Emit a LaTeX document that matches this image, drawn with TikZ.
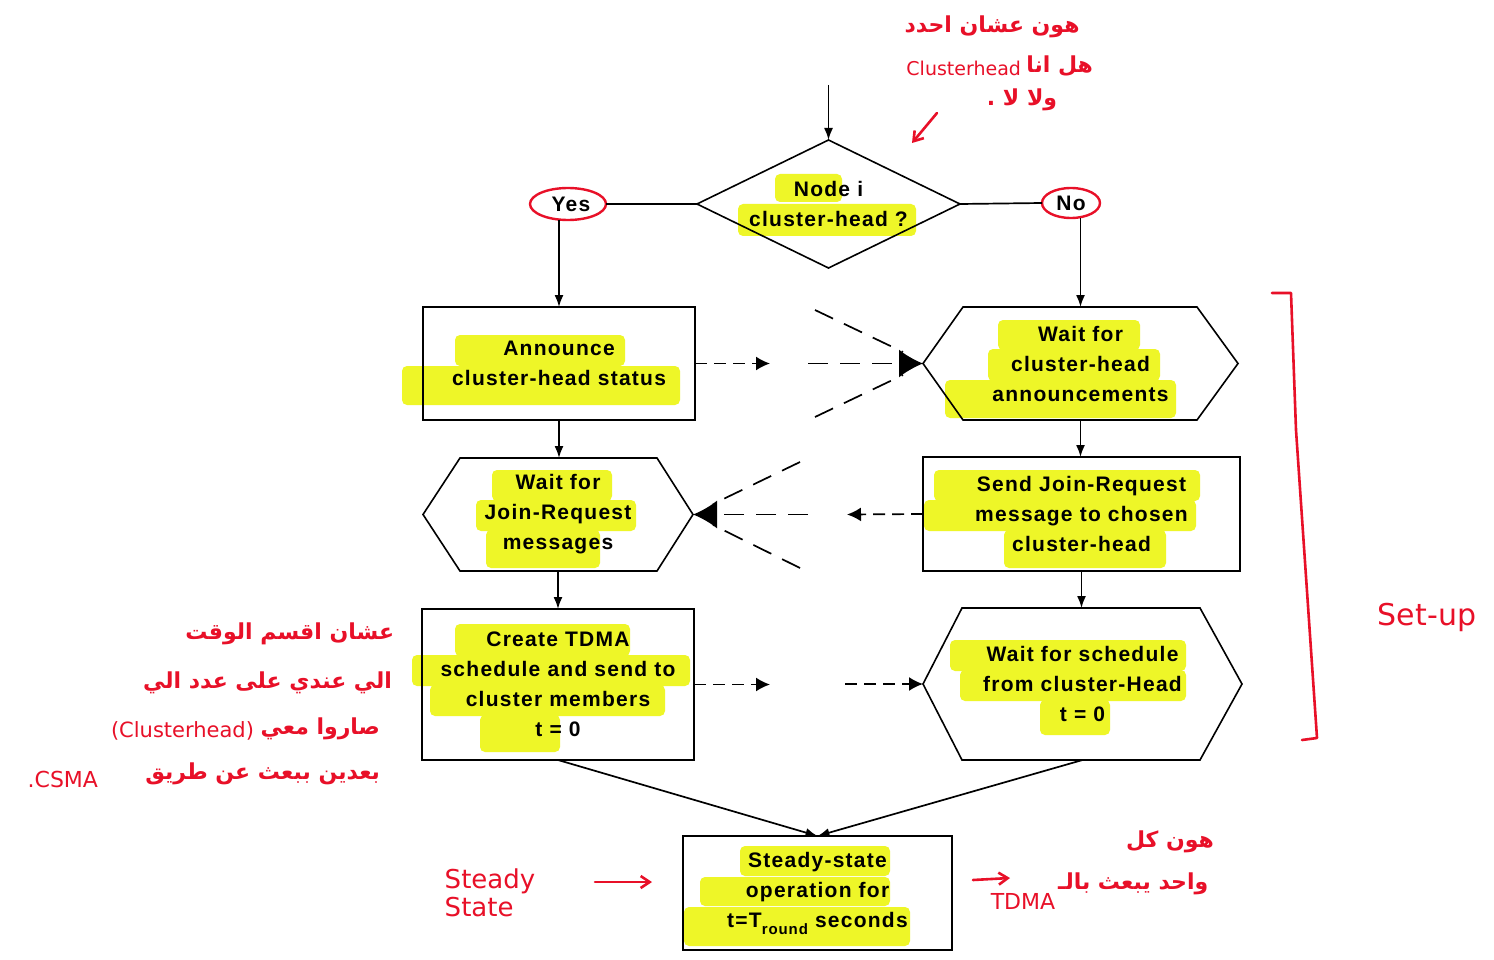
\documentclass[tikz,border=0pt]{standalone}
\usepackage{fontspec}
\setmainfont{Liberation Sans}
\newfontfamily\boxfont{Liberation Sans Bold}[LetterSpace=6]
\newfontfamily\arabicfont[Script=Arabic]{DejaVu Sans Bold}
\newfontfamily\handfont{DejaVu Sans}
\TeXXeTstate=1
\usetikzlibrary{arrows.meta,shapes.geometric}
\definecolor{hl}{RGB}{238,246,40}
\definecolor{pen}{RGB}{232,16,40}
\begin{document}
\begin{tikzpicture}[x=1pt,y=-1pt,
  every node/.style={inner sep=0pt,outer sep=0pt},
  txt/.style={font=\boxfont\fontsize{21}{30}\selectfont,align=center,text=black},
  shp/.style={draw=black,line width=1.6pt},
  ln/.style={draw=black,line width=1.7pt},
  arr/.style={ln,-{Latex[length=12pt,width=9pt]}},
  dsh/.style={ln,dash pattern=on 12pt off 7pt},
  dshL/.style={ln,dash pattern=on 20pt off 12pt},
  smalltip/.style={-{Latex[length=14pt,width=14pt]}},
  bigtip/.style={-{Latex[length=24pt,width=28pt]}},
  oval/.style={ellipse,draw=pen,line width=2.4pt,font=\boxfont\fontsize{21}{25}\selectfont,text=black},
  anno/.style={text=pen,font=\arabicfont\fontsize{22}{26}\selectfont},
  hand/.style={text=pen,font=\handfont\fontsize{26}{30}\selectfont},
  penline/.style={draw=pen,line width=2.6pt,line cap=round,line join=round},
  penarr/.style={penline,-{Straight Barb[length=9pt,width=12pt]}}
]
\useasboundingbox (0,0) rectangle (1494,960);
\fill[white] (0,0) rectangle (1494,960);

% ---------- highlighter strokes ----------
\begin{scope}[hl,rounded corners=5pt]
\fill (775,174) rectangle (842,202);
\fill (738,204) rectangle (916,236);
\fill (455,335) rectangle (625,366);
\fill (402,366) rectangle (680,405);
\fill (492,470) rectangle (612,501);
\fill (476,500) rectangle (636,531);
\fill (486,530) rectangle (600,568);
\fill (998,320) rectangle (1140,350);
\fill (988,349) rectangle (1160,381);
\fill (945,380) rectangle (1176,418);
\fill (934,470) rectangle (1200,501);
\fill (924,500) rectangle (1196,531);
\fill (1004,530) rectangle (1166,568);
\fill (455,624) rectangle (630,656);
\fill (412,655) rectangle (690,686);
\fill (430,685) rectangle (665,716);
\fill (480,715) rectangle (560,752);
\fill (950,640) rectangle (1186,671);
\fill (960,670) rectangle (1186,701);
\fill (1040,700) rectangle (1110,735);
\fill (740,846) rectangle (890,876);
\fill (700,877) rectangle (890,906);
\fill (684,907) rectangle (910,946);
\end{scope}

% ---------- flowchart nodes ----------
\node[txt,minimum width=263pt,minimum height=128pt] (dia) at (828.5,204) {Node i\\cluster-head ?};
\draw[shp] (dia.west) -- (dia.north) -- (dia.east) -- (dia.south) -- cycle;

\node[oval,minimum width=76pt,minimum height=32pt] (yes) at (568,204) {\hspace*{6pt}Yes};
\node[oval,minimum width=58pt,minimum height=30pt] (no) at (1071,203) {No};

\node[txt,shp,minimum width=272pt,minimum height=113pt] (b1) at (559,363.5) {Announce\\cluster-head status};
\node[txt,minimum width=270pt,minimum height=113pt] (h2) at (558,514.5) {Wait for\\Join-Request\\messages};
\draw[shp] (h2.west) -- ([xshift=37pt]h2.north west) -- ([xshift=-36pt]h2.north east) -- (h2.east)
  -- ([xshift=-36pt]h2.south east) -- ([xshift=37pt]h2.south west) -- cycle;
\node[txt,shp,minimum width=272pt,minimum height=151pt] (b3) at (558,684.5) {Create TDMA\\schedule and send to\\cluster members\\t = 0};

\node[txt,minimum width=315pt,minimum height=113pt] (h1) at (1080.5,363.5) {Wait for\\cluster-head\\announcements};
\draw[shp] (h1.west) -- ([xshift=40pt]h1.north west) -- ([xshift=-41pt]h1.north east) -- (h1.east)
  -- ([xshift=-41pt]h1.south east) -- ([xshift=40pt]h1.south west) -- cycle;
\node[txt,shp,minimum width=317pt,minimum height=114pt] (b2) at (1081.5,514) {Send Join-Request\\message to chosen\\cluster-head};
\node[txt,minimum width=319pt,minimum height=152pt] (h3) at (1082.5,684) {Wait for schedule\\from cluster-Head\\t = 0};
\draw[shp] (h3.west) -- ([xshift=39pt]h3.north west) -- ([xshift=-42pt]h3.north east) -- (h3.east)
  -- ([xshift=-42pt]h3.south east) -- ([xshift=39pt]h3.south west) -- cycle;

\node[txt,shp,minimum width=269pt,minimum height=114pt] (st) at (817.5,893)
  {Steady-state\\operation for\\t=T\raisebox{-7pt}{\fontsize{15}{15}\selectfont round} seconds};

% ---------- solid connectors ----------
\coordinate (start) at (828.5,85);
\draw[arr] (start) -- (dia.north);
\draw[ln] (dia.west) -- (yes.east);
\draw[ln] (dia.east) -- (no.west);
\draw[arr] (b1.north |- yes.south) -- (b1.north);
\draw[arr] (h1.north |- no.south) -- (h1.north);
\draw[arr] (b1.south) -- (b1.south |- h2.north);
\draw[arr] (h2.south) -- (b3.north);
\draw[arr] (h1.south) -- (h1.south |- b2.north);
\draw[arr] (b2.south) -- (b2.south |- h3.north);
\draw[arr] (b3.south) -- (st.north);
\draw[arr] (h3.south) -- (st.north);

% ---------- dashed broadcast arrows ----------
\coordinate (m1a) at (770,363.5);
\coordinate (m1b) at (808,363.5);
\coordinate (d1t) at (815,310);
\coordinate (d1te) at (903,352);
\coordinate (d1b) at (815,417);
\coordinate (d1be) at (903,375);
\draw[dsh,smalltip] (b1.east) -- (m1a);
\draw[dshL,bigtip] (m1b) -- (h1.west);
\draw[dshL] (d1t) -- (d1te);
\draw[dshL] (d1b) -- (d1be);

\coordinate (m2a) at (847,514.5);
\coordinate (m2b) at (808,514.5);
\coordinate (d2t) at (800,462);
\coordinate (d2te) at (713,504);
\coordinate (d2b) at (800,568);
\coordinate (d2be) at (713,525);
\draw[dsh,smalltip] (b2.west) -- (m2a);
\draw[dshL,bigtip] (m2b) -- (h2.east);
\draw[dshL] (d2t) -- (d2te);
\draw[dshL] (d2b) -- (d2be);

\coordinate (m3a) at (770,684.5);
\coordinate (m3b) at (845,684);
\draw[dsh,smalltip] (b3.east) -- (m3a);
\draw[dsh,smalltip] (m3b) -- (h3.west);

% ---------- handwritten annotations ----------
\node[anno] (t1) at (992,27) {\beginR هون عشان احدد\endR};
\node[anno,anchor=east] (t2a) at (1093,66) {\beginR هل انا\endR};
\node[hand,font=\handfont\fontsize{19}{22}\selectfont,anchor=east] (t2b) at (1021,68) {Clusterhead};
\node[anno] (t3) at (1022,100) {\beginR ولا لا .\endR};
\coordinate (ta1) at (937,113);
\coordinate (ta2) at (912,143);
\draw[penarr] (ta1) -- (ta2);

\node[anno,anchor=east] (l1) at (394,634) {\beginR عشان اقسم الوقت\endR};
\node[anno,anchor=east] (l2) at (392,683) {\beginR الي عندي على عدد الي\endR};
\node[anno,anchor=east] (l3a) at (380,729) {\beginR صاروا معي\endR};
\node[hand,font=\handfont\fontsize{21}{24}\selectfont,anchor=east] (l3b) at (254,731) {(Clusterhead)};
\node[anno,anchor=east] (l4a) at (380,774) {\beginR بعدين ببعث عن طريق\endR};
\node[hand,font=\handfont\fontsize{22}{24}\selectfont,anchor=east] (l4b) at (98,779) {.CSMA};

\node[hand,align=left] (ss) at (490,893) {Steady\\[-2pt]State};
\coordinate (sa1) at (595,882);
\coordinate (sa2) at (652,882);
\draw[penarr] (sa1) -- (sa2);

\node[anno] (r1) at (1170,842) {\beginR هون كل\endR};
\node[anno,anchor=west] (r2a) at (1058,884) {\beginR واحد يبعث بالـ\endR};
\node[hand,font=\handfont\fontsize{22}{24}\selectfont] (r2b) at (1023,901) {TDMA};
\coordinate (ra1) at (973,880);
\coordinate (ra2) at (1010,878);
\draw[penarr] (ra1) -- (ra2);

\draw[penline] (1272,293) -- (1291,293) -- (1296,430) -- (1317,738) -- (1302,740);
\node[hand,font=\handfont\fontsize{30}{34}\selectfont] (setup) at (1427,617) {Set-up};
\end{tikzpicture}
\end{document}
